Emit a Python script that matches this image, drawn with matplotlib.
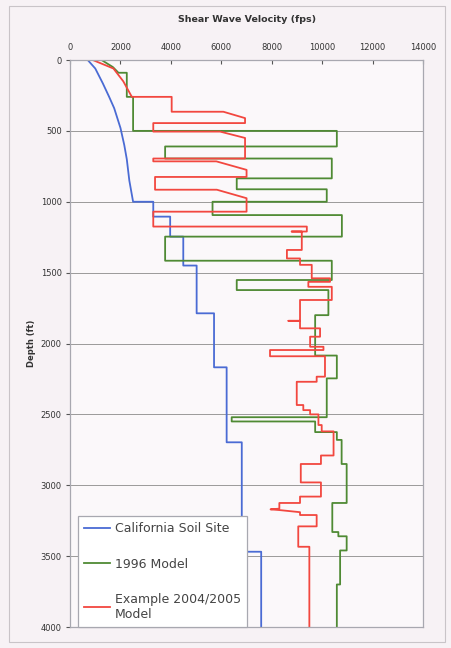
import numpy as np
import matplotlib
matplotlib.use("Agg")
import matplotlib.pyplot as plt

# ---- profiles: (velocity fps, depth ft) vertices ----
soil_v = [700, 1000, 1300, 1550, 1750, 2000, 2150, 2250, 2350, 2500,
          3300, 3300, 3970, 3970, 4490, 4490, 5020, 5020, 5710, 5710,
          6210, 6210, 6810, 6810, 7580, 7580]
soil_d = [0, 60, 165, 260, 340, 480, 600, 700, 850, 1000,
          1000, 1105, 1105, 1246, 1246, 1450, 1450, 1787, 1787, 2168,
          2168, 2697, 2697, 3469, 3469, 4000]

m1996_v = [1250, 1700, 1920, 2250, 2250, 2500, 2500, 10580, 10580, 3770,
           3770, 10380, 10380, 6610, 6610, 10180, 10180, 5650, 5650, 10780,
           10780, 3770, 3770, 10380, 10380, 6610, 6610, 10245, 10245, 9720,
           9720, 10580, 10580, 10180, 10180, 6410, 6410, 9720, 9720, 10580,
           10580, 10770, 10770, 10970, 10970, 10400, 10400, 10640, 10640, 10970,
           10970, 10710, 10710, 10580, 10580]
m1996_d = [0, 50, 90, 90, 260, 260, 500, 500, 610, 610,
           695, 695, 835, 835, 912, 912, 1000, 1000, 1094, 1094,
           1246, 1246, 1416, 1416, 1552, 1552, 1623, 1623, 1800, 1800,
           2085, 2085, 2246, 2246, 2520, 2520, 2550, 2550, 2625, 2625,
           2680, 2680, 2850, 2850, 3125, 3125, 3330, 3330, 3360, 3360,
           3460, 3460, 3700, 3700, 4000]

m2005_v = [900, 1720, 2110, 2450, 4030, 4030, 6080, 6940, 6940, 3300,
           3300, 5950, 6940, 6940, 3300, 3300, 5800, 7000, 7000, 3370,
           3370, 5820, 7000, 7000, 3300, 3300, 9390, 9390, 8790, 9190,
           9190, 8600, 8600, 9120, 9120, 9585, 9585, 10310, 10310, 9450,
           9450, 10380, 10380, 9120, 9120, 8660, 9120, 9120, 9915, 9915,
           9520, 9520, 10050, 10050, 7930, 7930, 10110, 10110, 9780, 9780,
           8990, 8990, 9250, 9250, 9520, 9520, 9850, 9850, 9980, 9980,
           10450, 10450, 9950, 9950, 9150, 9150, 9950, 9950, 9120, 9120,
           8300, 8300, 7950, 8300, 9120, 9120, 9780, 9780, 9050, 9050,
           9490, 9490]
m2005_d = [0, 60, 150, 260, 260, 365, 365, 410, 445, 445,
           505, 505, 550, 695, 695, 715, 715, 775, 825, 825,
           915, 915, 975, 1070, 1070, 1175, 1175, 1210, 1210, 1210,
           1340, 1340, 1400, 1400, 1445, 1445, 1540, 1540, 1565, 1565,
           1600, 1600, 1693, 1693, 1840, 1840, 1840, 1893, 1893, 1952,
           1952, 2023, 2023, 2046, 2046, 2090, 2090, 2234, 2234, 2270,
           2270, 2434, 2434, 2470, 2470, 2500, 2500, 2575, 2575, 2620,
           2620, 2790, 2790, 2850, 2850, 2980, 2980, 3080, 3080, 3125,
           3125, 3165, 3170, 3175, 3190, 3210, 3210, 3290, 3290, 3434,
           3434, 4000]

labels = ["California Soil Site", "1996 Model", "Example 2004/2005\nModel"]
colors = ["#4a6bd4", "#4f8a34", "#f2473f"]
x_ticks = np.arange(0, 14001, 2000)
y_ticks = np.arange(0, 4001, 500)

fig = plt.figure(figsize=(4.52, 6.48), dpi=100, facecolor="#f7f2f5")
# outer chart frame
fig.add_artist(plt.Rectangle((0.02, 0.01), 0.965, 0.98, transform=fig.transFigure,
                             fill=False, edgecolor="#c9c4c8", lw=0.8))
ax = fig.add_axes([0.155, 0.0324, 0.781, 0.875], facecolor="#fbf8fa")

for v, d, c, lab in zip([soil_v, m1996_v, m2005_v], [soil_d, m1996_d, m2005_d],
                        colors, labels):
    ax.plot(v, d, color=c, lw=1.3, label=lab)

ax.set_xlim(0, 14000)
ax.set_ylim(4000, 0)
ax.set_xticks(x_ticks)
ax.set_yticks(y_ticks)
ax.xaxis.tick_top()
ax.xaxis.set_label_position("top")
ax.tick_params(axis="x", direction="in", length=3, labelsize=6, colors="#555555",
               labelcolor="#333333", pad=6)
ax.tick_params(axis="y", direction="out", length=3, labelsize=6, colors="#555555",
               labelcolor="#333333", pad=3)
ax.yaxis.grid(True, color="#9a9a9a", lw=0.7)
ax.set_axisbelow(True)
for s in ax.spines.values():
    s.set_color("#a8a8b0")
    s.set_linewidth(0.9)

ax.set_xlabel("Shear Wave Velocity (fps)", fontsize=6.8, fontweight="bold",
              color="#333333", labelpad=15)
ax.set_ylabel("Depth (ft)", fontsize=6, fontweight="bold", color="#333333",
              labelpad=3)

leg = ax.legend(loc="lower left", bbox_to_anchor=(0.022, 0.0), borderaxespad=0,
                fontsize=9, handlelength=2.1, labelspacing=1.78, fancybox=False,
                edgecolor="#a8a8b0", framealpha=1, borderpad=0.5, handletextpad=0.35)
leg.get_frame().set_linewidth(0.9)
for t in leg.get_texts():
    t.set_color("#444444")

fig.savefig("out.png", dpi=100, facecolor=fig.get_facecolor())
